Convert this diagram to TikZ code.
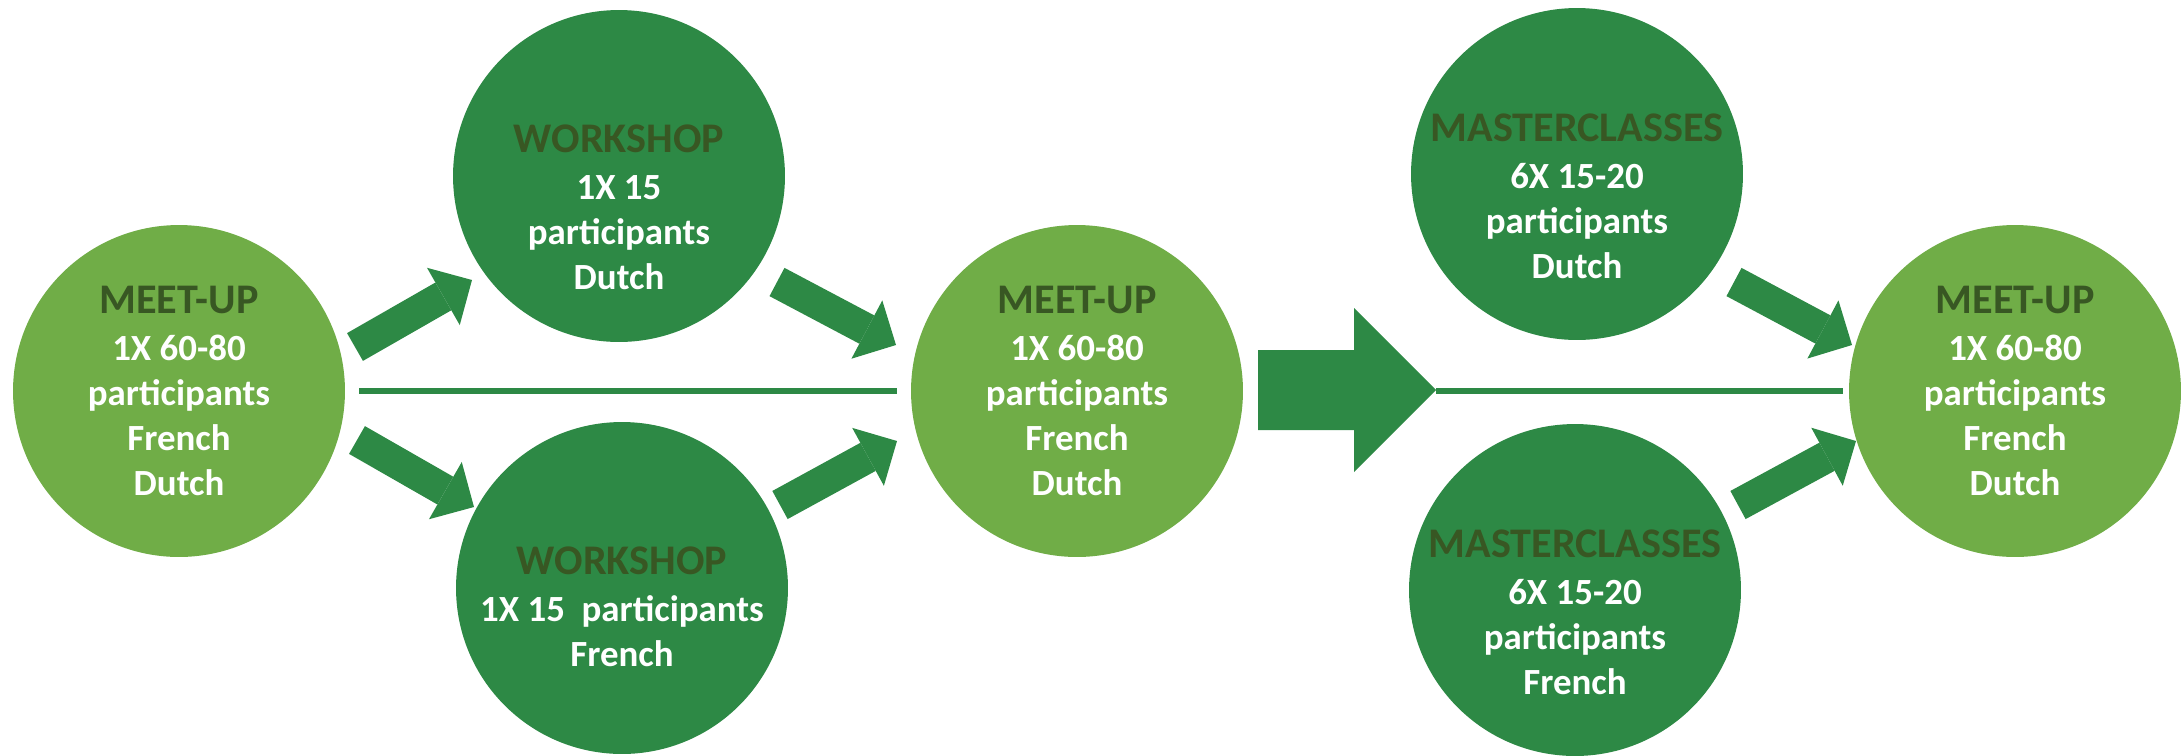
\documentclass[tikz,border=0pt]{standalone}
\usepackage{fontspec}
\setmainfont{Carlito}
\usetikzlibrary{arrows.meta}
\definecolor{lightgrn}{HTML}{70AD47}
\definecolor{darkgrn}{HTML}{2D8945}
\definecolor{titlegrn}{HTML}{385723}
\newcommand{\head}[1]{{\fontsize{24pt}{28pt}\selectfont\color{titlegrn}#1}\\[1pt]}

\begin{document}
\begin{tikzpicture}[x=0.02cm, y=-0.02cm,
  event/.style={circle, fill=#1, minimum size=6.64cm, inner sep=0pt},
  info/.style={text=white, align=center, inner sep=0pt, font=\fontsize{21pt}{25.6pt}\selectfont\bfseries},
  bigarrow/.style={darkgrn, line width=0.64cm, -{Triangle[width=1.32cm, length=0.66cm, line width=0pt]}},
  link/.style={darkgrn, line width=0.12cm}]

  \useasboundingbox (0,0) rectangle (2181,755);

  \node[event=lightgrn, info] (mu1) at (179,391) {\head{MEET-UP}1X 60-80\\participants\\French\\Dutch};

  \node[event=darkgrn] (ws1) at (619,176) {};
  \node[info] (ws1t) at (619,207) {\head{WORKSHOP}1X 15\\participants\\Dutch};
  \node[event=darkgrn] (ws2) at (622,588) {};
  \node[info] (ws2t) at (622,607) {\head{WORKSHOP}1X 15~ participants\\French};

  \node[event=lightgrn, info] (mu2) at (1077,391) {\head{MEET-UP}1X 60-80\\participants\\French\\Dutch};

  \node[event=darkgrn] (mc1) at (1577,174) {};
  \node[info] (mc1t) at (1577,196) {\head{MASTERCLASSES}6X 15-20\\participants\\Dutch};
  \node[event=darkgrn] (mc2) at (1575,590) {};
  \node[info] (mc2t) at (1575,612) {\head{MASTERCLASSES}6X 15-20\\participants\\French};

  \node[event=lightgrn, info] (mu3) at (2015,391) {\head{MEET-UP}1X 60-80\\participants\\French\\Dutch};

  % arrow ends
  \coordinate (a1s) at (355,347); \coordinate (a1e) at (472,280);
  \coordinate (a2s) at (357,440); \coordinate (a2e) at (474,507);
  \coordinate (a3s) at (777,282); \coordinate (a3e) at (896,345);
  \coordinate (a4s) at (780,505); \coordinate (a4e) at (897,441);
  \coordinate (a5s) at (1734,282); \coordinate (a5e) at (1852,345);
  \coordinate (a6s) at (1738,505); \coordinate (a6e) at (1856,441);

  \draw[bigarrow] (a1s) -- (a1e);
  \draw[bigarrow] (a2s) -- (a2e);
  \draw[bigarrow] (a3s) -- (a3e);
  \draw[bigarrow] (a4s) -- (a4e);
  \draw[bigarrow] (a5s) -- (a5e);
  \draw[bigarrow] (a6s) -- (a6e);

  \draw[link, shorten <=0.28cm, shorten >=0.28cm] (mu1) -- (mu2);

  % block arrow between the two halves
  \fill[darkgrn] (1258,350) -- (1354,350) -- (1354,308) -- (1436,390) -- (1354,472) -- (1354,430) -- (1258,430) -- cycle;
  \coordinate (btip) at (1436,391);
  \draw[link, shorten >=0.12cm] (btip) -- (mu3);

\end{tikzpicture}
\end{document}
